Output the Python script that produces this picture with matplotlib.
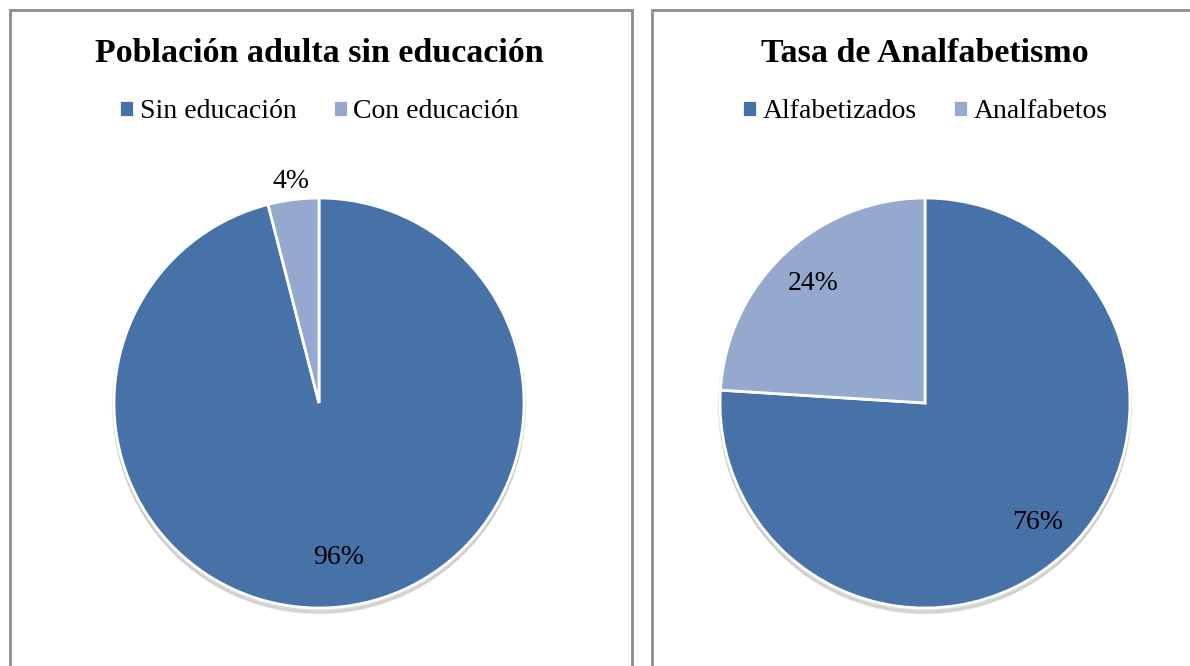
import matplotlib.pyplot as plt
from matplotlib.patches import Rectangle, Circle
import numpy as np

# Data
titles = ['Población adulta sin educación', 'Tasa de Analfabetismo']
labels_left = ['Sin educación', 'Con educación']
values_left = [96, 4]
labels_right = ['Alfabetizados', 'Analfabetos']
values_right = [76, 24]

colors = ['#4672A8', '#95A9CF']
W, H = 1190, 666

plt.rcParams['font.family'] = ['Liberation Serif', 'DejaVu Serif']
fig = plt.figure(figsize=(W / 100, H / 100), dpi=100)
fig.patch.set_facecolor('white')

# panel borders (bottom / right sides run off the picture)
for x0, x1 in [(10, 632), (652, 1240)]:
    fig.patches.append(Rectangle((x0 / W, -0.2), (x1 - x0) / W, (H - 10) / H + 0.2,
                                 transform=fig.transFigure, fill=False,
                                 edgecolor='#8c8c8c', linewidth=2))


def draw_pie(cx, title, labels, values, label_dist):
    r = 205
    ax = fig.add_axes([(cx - r) / W, (H - 403 - r) / H, 2 * r / W, 2 * r / H])
    # soft shadow under the pie
    for k, a in enumerate([0.10, 0.10, 0.12]):
        ax.add_patch(Circle((0, -0.012 - 0.008 * k), 1.0 + 0.004 * (2 - k),
                            color='#808080', alpha=a, zorder=0, clip_on=False))
    wedges, _ = ax.pie(values, colors=colors, startangle=90, counterclock=False,
                       wedgeprops=dict(edgecolor='white', linewidth=2, clip_on=False))
    for w, v, d in zip(wedges, values, label_dist):
        mid = np.deg2rad((w.theta1 + w.theta2) / 2)
        ax.text(d * np.cos(mid), d * np.sin(mid), f'{v}%', ha='center', va='center',
                fontsize=20)
    ax.set_xlim(-1, 1)
    ax.set_ylim(-1, 1)
    ax.axis('off')
    fig.text(cx / W, 1 - 54 / H, title, ha='center', va='center',
             fontsize=24.5, fontweight='bold')
    fig.legend(wedges, labels, loc='center', bbox_to_anchor=(cx / W, 1 - 112 / H),
               ncol=2, frameon=False, fontsize=20, handlelength=0.55, handleheight=0.55,
               handletextpad=0.2, columnspacing=1.3)


draw_pie(319, titles[0], labels_left, values_left, [0.76, 1.09])
draw_pie(925, titles[1], labels_right, values_right, [0.8, 0.8])

fig.savefig('out.png', dpi=100)
